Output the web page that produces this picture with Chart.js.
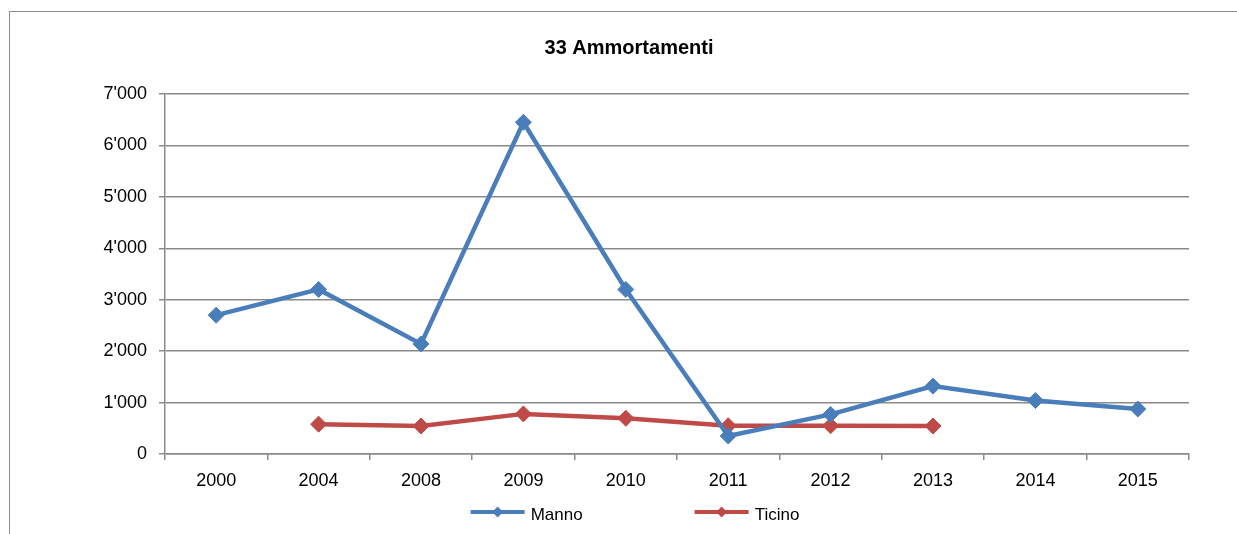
<!DOCTYPE html>
<html>
<head>
<meta charset="utf-8">
<script src="https://cdn.jsdelivr.net/npm/chart.js@4/dist/chart.umd.min.js"></script>
<style>
    html, body { margin: 0; padding: 0; background: #fff; overflow: hidden; }
    .frame {
        position: absolute;
        left: 9px;
        top: 11px;
        width: 1300px;
        height: 600px;
        border: 1px solid #8c8c8c;
    }
    .frame canvas { position: absolute; left: 0; top: 0; }
</style>
</head>
<body>
<div class="frame">
    <canvas id="amm_chart" width="1240" height="522"></canvas>
</div>
<script>
const TITLE = '33 Ammortamenti';
const years = ['2000', '2004', '2008', '2009', '2010', '2011', '2012', '2013', '2014', '2015'];
const manno = [2700, 3200, 2140, 6450, 3200, 350, 770, 1320, 1040, 875];
const ticino = [null, 580, 545, 780, 695, 550, 550, 545, null, null];
const yTicks = [0, 1000, 2000, 3000, 4000, 5000, 6000, 7000];

const BLUE = '#4a7ebb';
const RED = '#be4b48';
const GREY = '#8a8a8a';
const FONT = '"Liberation Sans", Arial, sans-serif';

// 7000 -> 7'000
function fmtThousands(v) {
    return String(v).replace(/\B(?=(\d{3})+(?!\d))/g, "'");
}

function diamond(ctx, x, y, r) {
    ctx.beginPath();
    ctx.moveTo(x - r, y);
    ctx.lineTo(x, y - r);
    ctx.lineTo(x + r, y);
    ctx.lineTo(x, y + r);
    ctx.closePath();
    ctx.fill();
}

// title and legend drawn by hand, the built-in ones don't space like this
const decorations = {
    id: 'decorations',
    afterDraw(chart) {
        const ctx = chart.ctx;
        ctx.save();
        ctx.fillStyle = '#000';
        ctx.font = 'bold 20px ' + FONT;
        ctx.textAlign = 'center';
        ctx.textBaseline = 'alphabetic';
        ctx.fillText(TITLE, 619, 42);

        ctx.font = '17px ' + FONT;
        ctx.textAlign = 'left';
        const lineY = 500;
        const items = chart.data.datasets.map(ds => ({
            label: ds.label,
            color: ds.borderColor,
            w: 54 + 6 + ctx.measureText(ds.label).width
        }));
        const gap = 112;
        const total = items.reduce((s, it) => s + it.w, 0) + gap * (items.length - 1);
        let x = 625 - total / 2;
        items.forEach(it => {
            ctx.strokeStyle = it.color;
            ctx.fillStyle = it.color;
            ctx.lineWidth = 4;
            ctx.beginPath();
            ctx.moveTo(x, lineY);
            ctx.lineTo(x + 54, lineY);
            ctx.stroke();
            diamond(ctx, x + 27, lineY, 5.5);
            ctx.fillStyle = '#000';
            ctx.fillText(it.label, x + 60, 508);
            x += it.w + gap;
        });
        ctx.restore();
    }
};

document.addEventListener('DOMContentLoaded', () => {
    const ctx = document.getElementById('amm_chart').getContext('2d');
    new Chart(ctx, {
        type: 'line',
        data: {
            labels: years,
            datasets: [{
                label: 'Manno',
                data: manno,
                borderColor: BLUE,
                backgroundColor: BLUE,
            }, {
                label: 'Ticino',
                data: ticino,
                borderColor: RED,
                backgroundColor: RED,
            }]
        },
        options: {
            responsive: false,
            animation: false,
            spanGaps: false,
            elements: {
                line: { borderWidth: 4.5, tension: 0 },
                point: { pointStyle: 'rectRot', radius: 8, borderWidth: 1 },
            },
            layout: {
                padding: { left: 0, top: 82, right: 61, bottom: 40 },
            },
            plugins: {
                legend: { display: false },
                title: { display: false },
                tooltip: { enabled: false },
            },
            scales: {
                x: {
                    offset: true,
                    afterFit: scale => { scale.height = 40; },
                    grid: {
                        offset: true,
                        drawOnChartArea: false,
                        color: GREY,
                        lineWidth: 1.5,
                        tickLength: 6,
                    },
                    border: { color: GREY, width: 1.5 },
                    ticks: {
                        color: '#000',
                        padding: 10,
                        font: { family: FONT, size: 18 },
                        maxRotation: 0,
                    },
                },
                y: {
                    min: 0,
                    max: 7000,
                    afterFit: scale => { scale.width = 155; },
                    afterBuildTicks: scale => {
                        scale.ticks = yTicks.map(v => ({ value: v }));
                    },
                    grid: {
                        color: GREY,
                        lineWidth: 1.5,
                        tickLength: 6,
                    },
                    border: { color: GREY, width: 1.5 },
                    ticks: {
                        color: '#000',
                        padding: 12,
                        font: { family: FONT, size: 18 },
                        callback: v => fmtThousands(v),
                    },
                },
            },
        },
        plugins: [decorations],
    });
});
</script>
</body>
</html>
